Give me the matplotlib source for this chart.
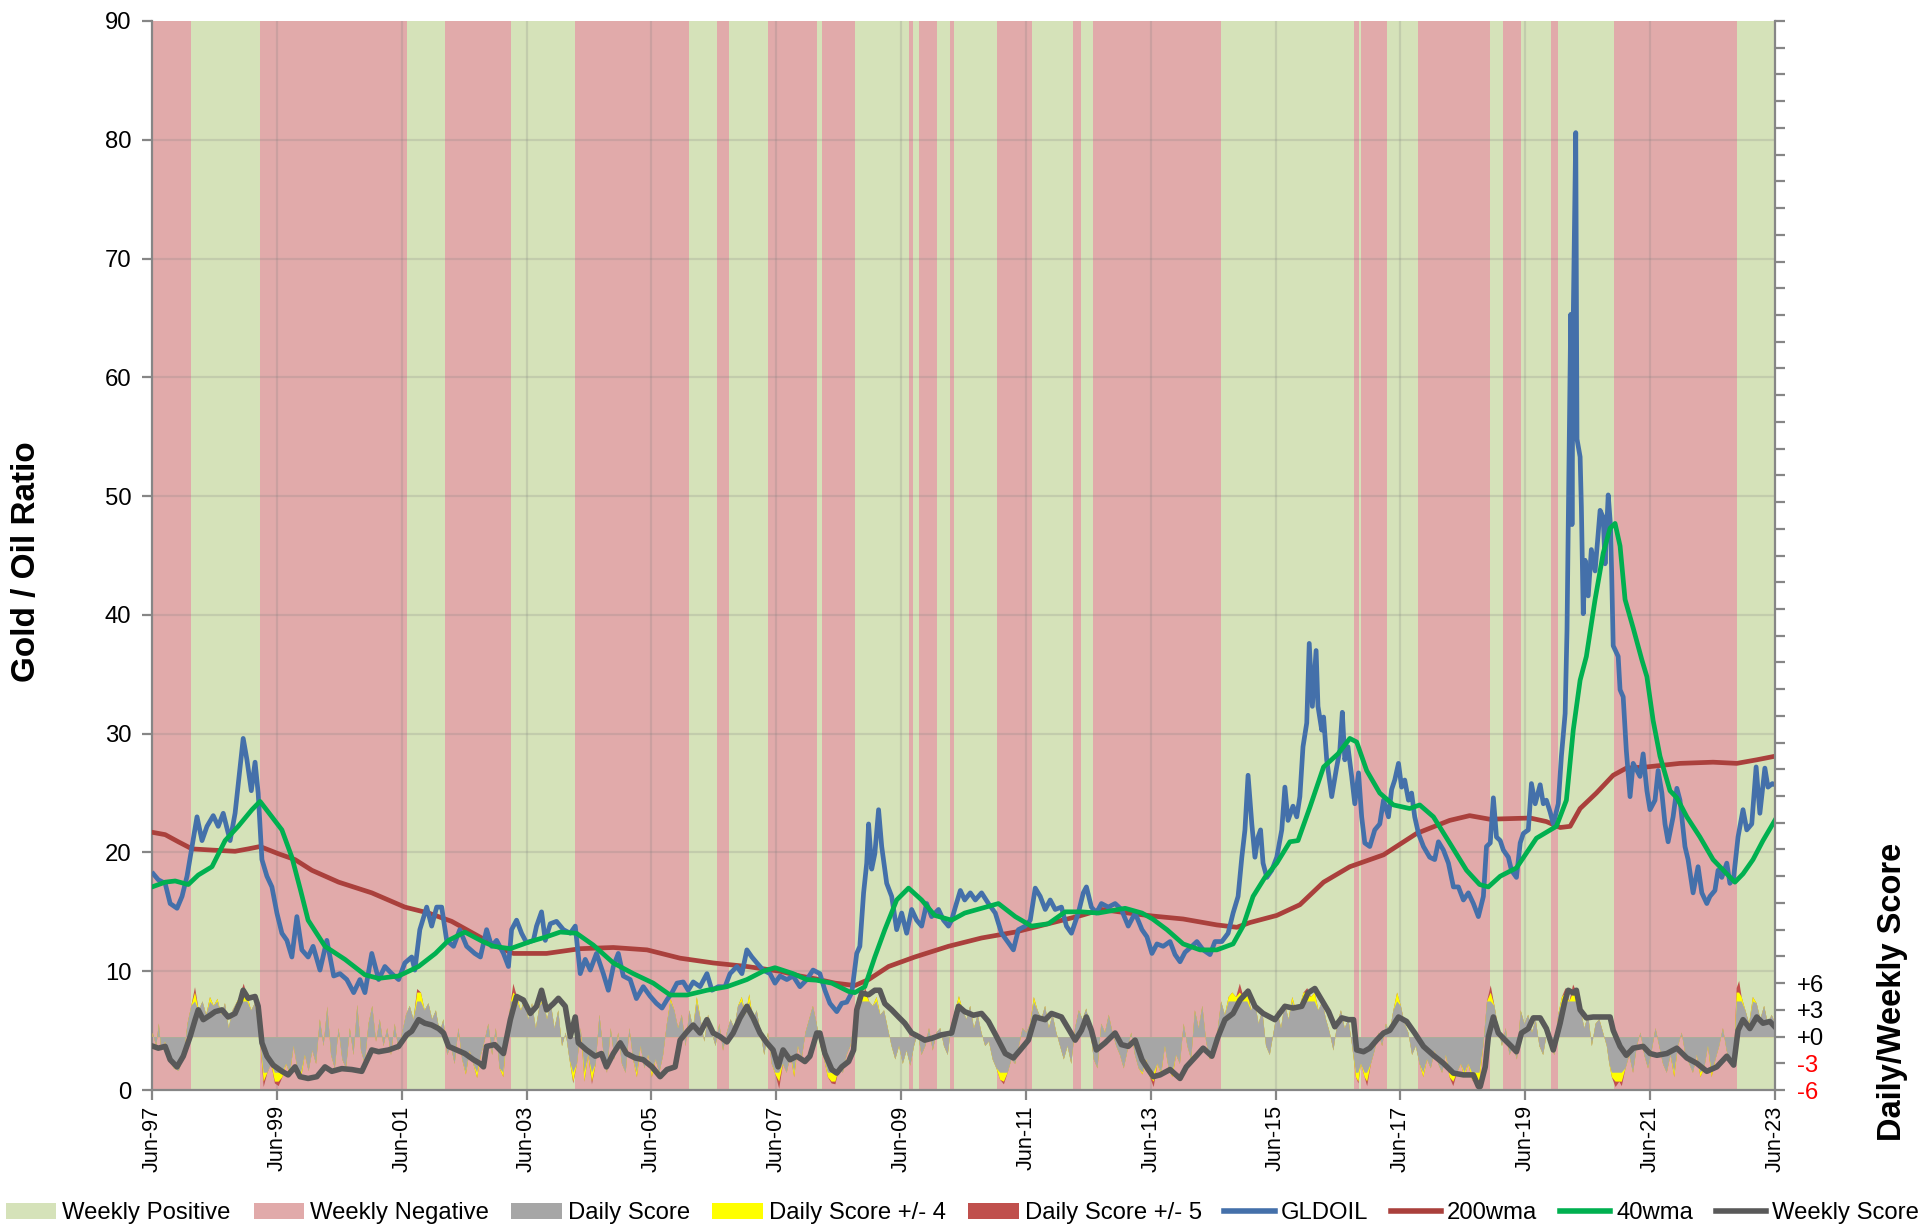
"""
Gold / Oil ratio chart with weekly regime bands and daily/weekly score
"""
import matplotlib
matplotlib.use("Agg")
import matplotlib.pyplot as plt
from matplotlib import font_manager
from matplotlib.patches import Patch
from matplotlib.lines import Line2D
import numpy as np

# ---------------- data (decimal years) ----------------
x_ticks = [1997.42, 1999.42, 2001.42, 2003.42, 2005.42, 2007.42, 2009.42,
           2011.42, 2013.42, 2015.42, 2017.42, 2019.42, 2021.42, 2023.42]
x_labels = ["Jun-97", "Jun-99", "Jun-01", "Jun-03", "Jun-05", "Jun-07", "Jun-09",
            "Jun-11", "Jun-13", "Jun-15", "Jun-17", "Jun-19", "Jun-21", "Jun-23"]

# weekly regime bands: edges and whether the band is positive
band_edges = [1997.42, 1998.04, 1999.15, 2001.50, 2002.11, 2003.17, 2004.20, 2006.02,
              2006.47, 2006.66, 2007.29, 2008.07, 2008.15, 2008.69, 2009.54, 2009.61,
              2009.71, 2009.99, 2010.20, 2010.27, 2010.95, 2011.52, 2012.18, 2012.31,
              2012.50, 2014.55, 2016.68, 2016.75, 2016.79, 2017.20, 2017.71, 2018.86,
              2019.07, 2019.35, 2019.83, 2019.94, 2020.85, 2022.81, 2023.42]
band_positive = [0, 1, 0, 1, 0, 1, 0, 1, 0, 1, 0, 1, 0, 1, 0, 1, 0, 1, 0,
                 1, 0, 1, 0, 1, 0, 1, 0, 1, 0, 1, 0, 1, 0, 1, 0, 1, 0, 1]

gldoil = [
    (1997.44, 18.2), (1997.52, 17.7), (1997.63, 17.4), (1997.71, 15.7), (1997.82, 15.3),
    (1997.90, 16.3), (1997.98, 18.0), (1998.06, 20.5), (1998.14, 23.0), (1998.22, 21.0),
    (1998.30, 22.2), (1998.40, 23.1), (1998.48, 22.2), (1998.56, 23.3), (1998.67, 21.0),
    (1998.75, 23.3), (1998.83, 27.2), (1998.88, 29.6), (1998.94, 27.8), (1999.01, 25.2),
    (1999.07, 27.6), (1999.12, 25.0), (1999.18, 19.4), (1999.26, 18.0), (1999.34, 17.1),
    (1999.42, 14.9), (1999.50, 13.2), (1999.58, 12.6), (1999.66, 11.2), (1999.74, 14.6),
    (1999.82, 11.8), (1999.92, 11.2), (2000.00, 12.1), (2000.11, 10.1), (2000.22, 12.6),
    (2000.33, 9.6), (2000.43, 9.8), (2000.54, 9.3), (2000.65, 8.2), (2000.75, 9.3),
    (2000.83, 8.2), (2000.94, 11.5), (2001.05, 9.3), (2001.15, 10.4), (2001.26, 9.8),
    (2001.37, 9.3), (2001.47, 10.7), (2001.58, 11.2), (2001.63, 10.1), (2001.71, 13.5),
    (2001.82, 15.4), (2001.90, 13.8), (2001.98, 15.4), (2002.06, 15.4), (2002.14, 12.6),
    (2002.25, 12.1), (2002.35, 13.5), (2002.46, 12.1), (2002.59, 11.5), (2002.68, 11.2),
    (2002.78, 13.5), (2002.86, 12.1), (2002.94, 12.6), (2003.05, 11.5), (2003.13, 10.4),
    (2003.18, 13.5), (2003.26, 14.3), (2003.34, 13.2), (2003.42, 12.4), (2003.53, 12.6),
    (2003.58, 13.8), (2003.66, 15.0), (2003.72, 12.6), (2003.80, 14.0), (2003.90, 14.2),
    (2004.01, 13.5), (2004.12, 13.2), (2004.20, 13.8), (2004.28, 9.8), (2004.36, 11.0),
    (2004.44, 10.1), (2004.54, 11.5), (2004.65, 9.8), (2004.73, 8.4), (2004.81, 10.4),
    (2004.89, 11.5), (2004.97, 9.6), (2005.08, 9.3), (2005.18, 7.7), (2005.29, 8.7),
    (2005.40, 7.9), (2005.50, 7.3), (2005.59, 6.9), (2005.67, 7.6), (2005.75, 8.2),
    (2005.83, 9.0), (2005.93, 9.1), (2006.01, 8.4), (2006.09, 9.1), (2006.20, 8.7),
    (2006.31, 9.8), (2006.39, 8.4), (2006.49, 8.7), (2006.60, 8.7), (2006.68, 9.8),
    (2006.79, 10.4), (2006.87, 9.8), (2006.95, 11.8), (2007.03, 11.2), (2007.11, 10.7),
    (2007.21, 10.1), (2007.32, 9.8), (2007.40, 9.0), (2007.48, 9.6), (2007.59, 9.3),
    (2007.69, 9.6), (2007.80, 8.7), (2007.91, 9.3), (2008.01, 10.1), (2008.12, 9.8),
    (2008.20, 8.4), (2008.28, 7.3), (2008.39, 6.6), (2008.47, 7.3), (2008.55, 7.4),
    (2008.63, 8.2), (2008.71, 11.5), (2008.76, 12.1), (2008.82, 16.6), (2008.87, 19.1),
    (2008.90, 22.4), (2008.95, 18.6), (2009.00, 19.9), (2009.06, 23.6), (2009.11, 20.5),
    (2009.19, 17.4), (2009.27, 16.3), (2009.35, 13.5), (2009.43, 14.9), (2009.51, 13.2),
    (2009.59, 15.2), (2009.67, 14.3), (2009.75, 13.8), (2009.83, 15.7), (2009.91, 14.6),
    (2010.02, 15.2), (2010.10, 14.3), (2010.18, 13.8), (2010.23, 14.3), (2010.29, 15.4),
    (2010.37, 16.8), (2010.44, 16.0), (2010.53, 16.6), (2010.61, 16.0), (2010.71, 16.6),
    (2010.82, 15.7), (2010.93, 14.9), (2011.03, 13.2), (2011.14, 12.4), (2011.22, 11.8),
    (2011.30, 13.5), (2011.41, 13.8), (2011.49, 14.3), (2011.57, 17.0), (2011.65, 16.3),
    (2011.73, 15.2), (2011.81, 16.0), (2011.89, 15.2), (2011.99, 15.4), (2012.07, 13.8),
    (2012.15, 13.2), (2012.26, 14.9), (2012.34, 16.6), (2012.39, 17.1), (2012.47, 15.4),
    (2012.55, 14.9), (2012.63, 15.7), (2012.74, 15.4), (2012.85, 15.7), (2012.95, 15.2),
    (2013.06, 13.8), (2013.17, 14.9), (2013.28, 13.5), (2013.36, 12.9), (2013.44, 11.5),
    (2013.52, 12.3), (2013.62, 12.1), (2013.73, 12.5), (2013.81, 11.4), (2013.89, 10.8),
    (2013.97, 11.6), (2014.08, 12.1), (2014.16, 12.5), (2014.26, 11.8), (2014.37, 11.4),
    (2014.45, 12.5), (2014.56, 12.5), (2014.66, 13.2), (2014.74, 14.9), (2014.82, 16.3),
    (2014.88, 19.6), (2014.93, 21.9), (2014.98, 26.5), (2015.04, 22.4), (2015.09, 19.6),
    (2015.14, 21.3), (2015.18, 21.9), (2015.22, 19.1), (2015.28, 17.9), (2015.36, 18.5),
    (2015.44, 19.6), (2015.52, 21.9), (2015.57, 25.5), (2015.62, 22.7), (2015.70, 23.9),
    (2015.76, 23.0), (2015.81, 24.7), (2015.86, 28.9), (2015.92, 30.9), (2015.96, 37.6),
    (2016.01, 32.3), (2016.07, 37.0), (2016.10, 32.3), (2016.16, 30.3), (2016.19, 31.4),
    (2016.24, 27.8), (2016.32, 24.7), (2016.40, 27.2), (2016.45, 28.6), (2016.49, 31.8),
    (2016.53, 27.8), (2016.58, 28.9), (2016.64, 26.4), (2016.69, 24.1), (2016.75, 26.7),
    (2016.80, 23.0), (2016.85, 20.8), (2016.93, 20.5), (2017.01, 21.9), (2017.09, 22.4),
    (2017.15, 24.4), (2017.23, 23.0), (2017.28, 25.3), (2017.33, 26.1), (2017.39, 27.5),
    (2017.44, 25.5), (2017.49, 26.1), (2017.55, 24.4), (2017.60, 25.0), (2017.65, 23.0),
    (2017.71, 21.6), (2017.79, 20.5), (2017.89, 19.6), (2017.97, 19.4), (2018.03, 20.9),
    (2018.11, 20.2), (2018.19, 19.1), (2018.27, 17.1), (2018.35, 17.1), (2018.43, 16.0),
    (2018.51, 16.6), (2018.59, 15.7), (2018.67, 14.6), (2018.75, 16.3), (2018.80, 20.5),
    (2018.86, 20.8), (2018.91, 24.6), (2018.96, 21.3), (2019.02, 21.0), (2019.07, 20.2),
    (2019.15, 19.6), (2019.20, 18.5), (2019.28, 17.9), (2019.34, 20.8), (2019.39, 21.6),
    (2019.47, 21.9), (2019.52, 25.8), (2019.58, 24.1), (2019.66, 25.7), (2019.71, 24.1),
    (2019.76, 24.4), (2019.82, 23.4), (2019.87, 22.4), (2019.95, 24.1), (2020.00, 28.1),
    (2020.06, 31.7), (2020.09, 38.7), (2020.15, 65.3), (2020.17, 47.6), (2020.19, 65.0),
    (2020.23, 80.6), (2020.25, 54.8), (2020.30, 53.3), (2020.32, 49.1), (2020.35, 40.1),
    (2020.38, 44.6), (2020.43, 41.6), (2020.48, 45.5), (2020.54, 43.7), (2020.62, 48.8),
    (2020.67, 48.2), (2020.70, 44.3), (2020.75, 50.1), (2020.79, 47.3), (2020.83, 37.4),
    (2020.91, 36.5), (2020.94, 33.7), (2020.99, 33.1), (2021.04, 28.6), (2021.10, 24.7),
    (2021.15, 27.5), (2021.21, 26.9), (2021.26, 26.4), (2021.31, 28.3), (2021.37, 25.2),
    (2021.42, 23.6), (2021.50, 24.4), (2021.55, 26.9), (2021.61, 25.0), (2021.66, 22.4),
    (2021.71, 20.9), (2021.79, 23.0), (2021.85, 25.4), (2021.90, 24.4), (2021.98, 20.5),
    (2022.03, 19.4), (2022.11, 16.6), (2022.19, 18.8), (2022.25, 16.6), (2022.33, 15.7),
    (2022.38, 16.3), (2022.46, 16.8), (2022.51, 18.5), (2022.57, 17.9), (2022.65, 19.1),
    (2022.70, 17.4), (2022.76, 17.9), (2022.83, 21.3), (2022.91, 23.6), (2022.97, 21.9),
    (2023.05, 22.4), (2023.12, 27.2), (2023.18, 23.3), (2023.26, 27.1), (2023.31, 25.5),
    (2023.38, 25.8), (2023.42, 25.7),
]

wma200 = [
    (1997.42, 21.7), (1997.63, 21.5), (1997.84, 20.9), (1998.06, 20.3), (1998.38, 20.2),
    (1998.75, 20.1), (1998.96, 20.3), (1999.15, 20.5), (1999.44, 19.9), (1999.71, 19.4),
    (1999.98, 18.5), (2000.41, 17.5), (2000.94, 16.6), (2001.47, 15.4), (2001.85, 14.9),
    (2002.22, 14.2), (2002.70, 12.8), (2002.94, 12.1), (2003.21, 11.5), (2003.74, 11.5),
    (2004.28, 11.9), (2004.81, 12.0), (2005.35, 11.8), (2005.88, 11.1), (2006.41, 10.7),
    (2006.95, 10.4), (2007.48, 10.0), (2007.80, 9.6), (2008.06, 9.35), (2008.36, 9.0),
    (2008.68, 8.8), (2008.90, 9.3), (2009.22, 10.4), (2009.64, 11.2), (2010.18, 12.1),
    (2010.71, 12.8), (2011.25, 13.3), (2011.78, 14.0), (2012.31, 14.7), (2012.63, 15.2),
    (2013.06, 14.9), (2013.45, 14.65), (2013.94, 14.4), (2014.48, 13.9), (2014.80, 13.7),
    (2015.01, 14.1), (2015.44, 14.7), (2015.81, 15.6), (2016.19, 17.5), (2016.61, 18.8),
    (2017.15, 19.8), (2017.68, 21.6), (2018.21, 22.7), (2018.53, 23.1), (2018.85, 22.8),
    (2019.50, 22.9), (2019.76, 22.6), (2019.98, 22.1), (2020.14, 22.2), (2020.30, 23.7),
    (2020.56, 25.0), (2020.83, 26.5), (2021.04, 27.1), (2021.37, 27.2), (2021.90, 27.5),
    (2022.43, 27.6), (2022.81, 27.5), (2023.13, 27.8), (2023.42, 28.1),
]

wma40 = [
    (1997.42, 17.1), (1997.63, 17.5), (1997.79, 17.6), (1998.00, 17.3), (1998.16, 18.1),
    (1998.38, 18.8), (1998.59, 21.0), (1998.80, 22.2), (1999.02, 23.6), (1999.15, 24.3),
    (1999.34, 23.0), (1999.50, 21.9), (1999.66, 19.6), (1999.80, 16.8), (1999.92, 14.3),
    (2000.19, 12.1), (2000.51, 11.0), (2000.83, 9.7), (2001.05, 9.4), (2001.37, 9.6),
    (2001.69, 10.4), (2001.96, 11.5), (2002.17, 12.6), (2002.43, 13.3), (2002.70, 12.55),
    (2002.89, 12.1), (2003.16, 11.9), (2003.48, 12.5), (2003.74, 12.9), (2003.96, 13.3),
    (2004.22, 13.2), (2004.49, 12.2), (2004.81, 10.7), (2005.13, 9.8), (2005.45, 9.0),
    (2005.72, 8.0), (2005.99, 8.0), (2006.31, 8.4), (2006.63, 8.7), (2006.95, 9.3),
    (2007.21, 10.0), (2007.40, 10.3), (2007.69, 9.8), (2007.91, 9.3), (2008.06, 9.25),
    (2008.31, 9.0), (2008.58, 8.3), (2008.68, 8.2), (2008.84, 8.7), (2009.00, 11.2),
    (2009.16, 13.5), (2009.35, 16.0), (2009.54, 17.0), (2009.75, 16.0), (2009.96, 14.7),
    (2010.23, 14.3), (2010.44, 14.9), (2010.71, 15.3), (2010.98, 15.7), (2011.25, 14.6),
    (2011.51, 13.8), (2011.78, 14.0), (2012.05, 15.0), (2012.31, 15.0), (2012.58, 14.9),
    (2013.01, 15.3), (2013.28, 14.9), (2013.45, 14.4), (2013.68, 13.5), (2013.94, 12.3),
    (2014.21, 11.8), (2014.48, 11.8), (2014.74, 12.3), (2014.90, 13.8), (2015.06, 16.3),
    (2015.25, 17.9), (2015.44, 19.1), (2015.65, 20.9), (2015.78, 21.0), (2015.97, 23.8),
    (2016.19, 27.2), (2016.42, 28.3), (2016.61, 29.6), (2016.72, 29.3), (2016.88, 26.9),
    (2017.09, 25.0), (2017.31, 24.0), (2017.57, 23.7), (2017.73, 24.0), (2017.95, 23.0),
    (2018.21, 20.8), (2018.48, 18.5), (2018.69, 17.3), (2018.83, 17.1), (2019.02, 18.0),
    (2019.28, 18.7), (2019.60, 21.2), (2019.92, 22.2), (2020.08, 24.4), (2020.19, 30.3),
    (2020.30, 34.5), (2020.40, 36.5), (2020.54, 41.3), (2020.67, 45.2), (2020.78, 47.3),
    (2020.86, 47.7), (2020.94, 45.8), (2021.02, 41.3), (2021.15, 38.9), (2021.29, 36.2),
    (2021.37, 34.8), (2021.47, 31.1), (2021.58, 28.1), (2021.74, 25.2), (2021.85, 24.6),
    (2022.01, 23.0), (2022.22, 21.3), (2022.43, 19.4), (2022.65, 18.2), (2022.78, 17.5),
    (2022.91, 18.2), (2023.07, 19.4), (2023.23, 21.0), (2023.42, 22.7),
]

# scores are on the secondary axis (-6 .. +6)
weekly_score = [
    (1997.44, -1.1), (1997.52, -1.3), (1997.63, -1.1), (1997.71, -2.6), (1997.82, -3.4),
    (1997.92, -2.2), (1998.03, 0.0), (1998.11, 1.9), (1998.16, 3.0), (1998.24, 1.9),
    (1998.35, 2.4), (1998.43, 2.8), (1998.54, 3.0), (1998.64, 2.2), (1998.75, 2.6),
    (1998.83, 3.9), (1998.88, 5.2), (1998.96, 4.3), (1999.07, 4.5), (1999.12, 3.4),
    (1999.18, -0.7), (1999.26, -2.2), (1999.36, -3.2), (1999.50, -3.9), (1999.60, -4.3),
    (1999.71, -3.4), (1999.79, -4.5), (1999.92, -4.7), (2000.06, -4.5), (2000.19, -3.4),
    (2000.30, -3.9), (2000.46, -3.6), (2000.62, -3.7), (2000.78, -3.9), (2000.94, -1.5),
    (2001.05, -1.7), (2001.21, -1.5), (2001.37, -1.1), (2001.50, 0.2), (2001.58, 0.6),
    (2001.69, 1.9), (2001.79, 1.5), (2001.90, 1.3), (2002.01, 0.9), (2002.09, 0.4),
    (2002.17, -1.1), (2002.30, -1.5), (2002.43, -1.9), (2002.57, -2.6), (2002.67, -3.0),
    (2002.73, -3.4), (2002.78, -1.1), (2002.91, -0.9), (2003.05, -1.9), (2003.16, 1.9),
    (2003.26, 4.5), (2003.37, 4.1), (2003.48, 2.6), (2003.58, 3.4), (2003.66, 5.2),
    (2003.74, 3.0), (2003.85, 3.7), (2003.93, 4.3), (2004.04, 3.4), (2004.12, 0.0),
    (2004.20, 2.2), (2004.25, -0.7), (2004.38, -1.5), (2004.52, -2.2), (2004.62, -1.9),
    (2004.70, -3.4), (2004.81, -1.9), (2004.92, -0.7), (2005.02, -1.9), (2005.16, -2.4),
    (2005.29, -2.6), (2005.43, -3.4), (2005.56, -4.5), (2005.67, -3.7), (2005.80, -3.4),
    (2005.88, -0.4), (2006.01, 0.7), (2006.09, 1.3), (2006.20, 0.4), (2006.31, 1.9),
    (2006.41, 0.4), (2006.52, 0.0), (2006.63, -0.6), (2006.73, 0.4), (2006.84, 2.1),
    (2006.95, 3.4), (2007.05, 2.1), (2007.16, 0.4), (2007.27, -0.7), (2007.37, -1.5),
    (2007.45, -3.4), (2007.53, -1.5), (2007.64, -2.6), (2007.75, -2.2), (2007.88, -2.8),
    (2007.96, -2.2), (2008.07, 0.4), (2008.12, 0.4), (2008.20, -1.9), (2008.31, -3.7),
    (2008.39, -4.1), (2008.47, -3.4), (2008.58, -2.8), (2008.66, -1.5), (2008.71, 3.0),
    (2008.79, 4.9), (2008.90, 4.7), (2009.00, 5.2), (2009.08, 5.2), (2009.16, 3.7),
    (2009.27, 3.0), (2009.38, 2.2), (2009.48, 1.5), (2009.59, 0.4), (2009.70, 0.0),
    (2009.80, -0.4), (2009.91, -0.2), (2010.07, 0.2), (2010.23, 0.4), (2010.34, 3.4),
    (2010.44, 2.8), (2010.58, 2.4), (2010.71, 2.6), (2010.82, 1.7), (2010.95, 0.0),
    (2011.09, -1.9), (2011.22, -2.4), (2011.33, -1.5), (2011.46, -0.4), (2011.57, 2.2),
    (2011.73, 1.9), (2011.83, 2.6), (2011.99, 2.2), (2012.10, 0.9), (2012.21, -0.4),
    (2012.31, 0.7), (2012.39, 2.2), (2012.47, 0.7), (2012.55, -1.5), (2012.69, -0.7),
    (2012.85, 0.4), (2012.95, -0.9), (2013.06, -1.1), (2013.17, -0.4), (2013.28, -2.6),
    (2013.38, -3.7), (2013.46, -4.5), (2013.57, -4.3), (2013.73, -3.7), (2013.89, -4.7),
    (2013.99, -3.4), (2014.16, -2.1), (2014.26, -1.3), (2014.40, -2.2), (2014.50, 0.0),
    (2014.61, 1.9), (2014.74, 2.6), (2014.85, 4.1), (2014.98, 5.1), (2015.09, 3.4),
    (2015.22, 2.6), (2015.41, 1.9), (2015.57, 3.4), (2015.70, 3.2), (2015.84, 3.4),
    (2015.94, 4.9), (2016.05, 5.4), (2016.16, 4.1), (2016.27, 2.8), (2016.37, 1.1),
    (2016.48, 2.1), (2016.59, 1.9), (2016.67, 1.9), (2016.72, -1.5), (2016.83, -1.7),
    (2016.93, -1.3), (2017.04, -0.4), (2017.15, 0.4), (2017.25, 0.7), (2017.39, 2.2),
    (2017.52, 1.7), (2017.65, 0.4), (2017.79, -1.1), (2017.95, -2.1), (2018.11, -3.0),
    (2018.27, -4.1), (2018.43, -4.3), (2018.59, -4.3), (2018.67, -5.6), (2018.70, -5.6),
    (2018.78, -3.4), (2018.83, 0.0), (2018.91, 2.2), (2018.99, 0.4), (2019.10, -0.4),
    (2019.20, -1.1), (2019.28, -1.7), (2019.36, 0.4), (2019.47, 0.9), (2019.55, 2.1),
    (2019.66, 2.1), (2019.76, 0.9), (2019.87, -1.5), (2019.98, 1.5), (2020.06, 4.1),
    (2020.11, 5.2), (2020.19, 4.9), (2020.24, 5.2), (2020.30, 3.0), (2020.40, 2.1),
    (2020.51, 2.2), (2020.64, 2.2), (2020.78, 2.2), (2020.83, 0.7), (2020.94, -1.1),
    (2021.04, -2.1), (2021.15, -1.3), (2021.31, -1.1), (2021.42, -1.9), (2021.53, -2.1),
    (2021.69, -1.9), (2021.85, -1.3), (2022.01, -2.4), (2022.17, -3.0), (2022.33, -3.9),
    (2022.49, -3.4), (2022.65, -2.2), (2022.76, -3.2), (2022.83, 0.7), (2022.91, 1.9),
    (2023.02, 0.9), (2023.13, 2.2), (2023.23, 1.5), (2023.34, 1.7), (2023.42, 1.1),
]

daily_score = [
    (1997.42, 0.5), (1997.48, -1.0), (1997.52, 1.5), (1997.56, -1.5), (1997.62, -0.5),
    (1997.68, -2.5), (1997.76, -3.5), (1997.84, -3.8), (1997.92, -2.0), (1997.98, 1.5),
    (1998.04, 3.5), (1998.10, 5.6), (1998.16, 3.0), (1998.22, 4.0), (1998.28, 2.5),
    (1998.34, 4.5), (1998.40, 3.5), (1998.46, 4.3), (1998.52, 2.5), (1998.58, 3.8),
    (1998.64, 1.0), (1998.70, 3.0), (1998.76, 3.8), (1998.82, 4.6), (1998.88, 6.0),
    (1998.94, 4.5), (1999.00, 3.0), (1999.06, 3.8), (1999.10, 2.0), (1999.15, -1.0),
    (1999.20, -5.6), (1999.26, -4.0), (1999.32, -3.0), (1999.38, -5.2), (1999.44, -5.5),
    (1999.50, -4.5), (1999.56, -3.0), (1999.62, -4.2), (1999.68, -1.0), (1999.74, -3.5),
    (1999.80, -4.6), (1999.86, -2.0), (1999.92, -3.8), (1999.98, -1.5), (2000.04, -3.0),
    (2000.10, 2.0), (2000.16, -1.0), (2000.22, 3.4), (2000.28, -2.0), (2000.34, -3.5),
    (2000.40, 1.0), (2000.46, -2.5), (2000.52, -3.5), (2000.58, 1.0), (2000.64, -2.0),
    (2000.70, 3.6), (2000.76, -1.5), (2000.82, -3.0), (2000.88, 1.5), (2000.94, 3.5),
    (2001.00, -0.5), (2001.06, 2.0), (2001.12, -1.0), (2001.18, 1.0), (2001.24, -2.0),
    (2001.30, 1.5), (2001.36, -1.5), (2001.42, 0.5), (2001.48, 2.5), (2001.54, 3.5),
    (2001.60, 2.0), (2001.66, 5.4), (2001.72, 5.0), (2001.78, 3.0), (2001.84, 3.8),
    (2001.90, 2.0), (2001.96, 3.0), (2002.02, 0.5), (2002.08, 2.0), (2002.14, -2.0),
    (2002.20, -1.0), (2002.26, -3.0), (2002.32, 1.0), (2002.38, -2.5), (2002.44, -4.2),
    (2002.50, -1.5), (2002.56, -3.0), (2002.62, -4.6), (2002.68, -2.0), (2002.72, -1.0),
    (2002.80, 1.5), (2002.86, -2.0), (2002.92, 1.0), (2002.98, -3.5), (2003.04, -4.5),
    (2003.10, 0.5), (2003.16, 4.0), (2003.20, 6.0), (2003.26, 4.5), (2003.32, 3.0),
    (2003.38, 4.2), (2003.44, 2.0), (2003.50, 3.8), (2003.56, 1.0), (2003.62, 3.5),
    (2003.68, 4.3), (2003.74, 2.0), (2003.80, 3.8), (2003.86, 1.0), (2003.92, 3.0),
    (2003.98, -1.0), (2004.04, 0.5), (2004.10, -2.5), (2004.16, -5.2), (2004.22, -3.0),
    (2004.28, 1.0), (2004.34, -5.0), (2004.40, -2.0), (2004.46, -5.3), (2004.52, -3.0),
    (2004.58, 2.5), (2004.64, -1.5), (2004.70, -4.0), (2004.76, 1.0), (2004.82, -2.5),
    (2004.88, 0.5), (2004.94, -3.0), (2005.00, -4.0), (2005.06, 1.0), (2005.12, -2.5),
    (2005.18, -4.5), (2005.24, -1.0), (2005.30, -3.5), (2005.36, -2.0), (2005.42, -4.5),
    (2005.48, -2.5), (2005.54, -4.0), (2005.60, -2.0), (2005.66, 1.5), (2005.72, 4.3),
    (2005.78, 3.0), (2005.84, 1.0), (2005.90, 2.5), (2005.96, -1.0), (2006.02, 3.0),
    (2006.08, 1.0), (2006.14, 4.5), (2006.20, 2.0), (2006.26, -0.5), (2006.32, 2.5),
    (2006.38, 0.5), (2006.44, -1.0), (2006.50, 1.5), (2006.56, -1.5), (2006.62, 0.5),
    (2006.68, 2.0), (2006.74, 1.0), (2006.80, 3.5), (2006.86, 4.5), (2006.92, 2.5),
    (2006.98, 4.8), (2007.04, 2.0), (2007.10, 3.0), (2007.16, 0.5), (2007.22, -2.0),
    (2007.28, 0.5), (2007.34, -3.0), (2007.40, -4.2), (2007.46, -5.8), (2007.52, -3.0),
    (2007.58, -4.0), (2007.64, -2.0), (2007.70, -4.5), (2007.76, -1.0), (2007.82, -2.5),
    (2007.88, 0.5), (2007.94, 2.0), (2008.00, 3.5), (2008.06, 1.5), (2008.12, -1.0),
    (2008.18, -2.5), (2008.24, -4.5), (2008.30, -5.2), (2008.36, -5.3), (2008.42, -3.5),
    (2008.48, -4.0), (2008.54, -2.0), (2008.60, -1.0), (2008.66, 1.5), (2008.72, 4.5),
    (2008.78, 4.2), (2008.84, 5.5), (2008.90, 4.0), (2008.96, 3.5), (2009.02, 4.5),
    (2009.08, 2.5), (2009.14, 3.0), (2009.20, 1.0), (2009.26, -1.0), (2009.32, -2.5),
    (2009.38, -1.0), (2009.44, -3.0), (2009.50, -1.5), (2009.56, -3.2), (2009.62, -1.0),
    (2009.68, 0.5), (2009.74, -2.0), (2009.80, -1.0), (2009.86, 1.0), (2009.92, -1.5),
    (2009.98, 0.5), (2010.04, 1.0), (2010.10, -1.0), (2010.16, -2.0), (2010.22, 1.5),
    (2010.28, 3.0), (2010.34, 4.6), (2010.40, 3.0), (2010.46, 2.0), (2010.52, 3.5),
    (2010.58, 1.0), (2010.64, 2.5), (2010.70, 0.5), (2010.76, -1.0), (2010.82, -0.5),
    (2010.88, -2.5), (2010.94, -3.5), (2011.00, -4.8), (2011.06, -5.3), (2011.12, -4.0),
    (2011.18, -2.5), (2011.24, -3.0), (2011.30, -1.0), (2011.36, 1.0), (2011.42, 0.5),
    (2011.48, 1.5), (2011.54, 4.5), (2011.60, 3.0), (2011.66, 2.0), (2011.72, 3.5),
    (2011.78, 1.0), (2011.84, 2.5), (2011.90, 0.5), (2011.96, -1.0), (2012.02, -2.5),
    (2012.08, -1.0), (2012.14, -3.0), (2012.20, 1.0), (2012.26, 3.0), (2012.32, 2.0),
    (2012.38, 3.2), (2012.44, 1.0), (2012.50, -2.5), (2012.56, -3.5), (2012.62, 1.5),
    (2012.68, 0.5), (2012.74, 2.5), (2012.80, 0.5), (2012.86, -1.0), (2012.92, -2.0),
    (2012.98, -3.5), (2013.04, -1.5), (2013.10, 0.5), (2013.16, -2.0), (2013.22, -3.5),
    (2013.28, -4.2), (2013.34, -2.5), (2013.40, -4.5), (2013.46, -5.6), (2013.52, -3.0),
    (2013.58, -4.2), (2013.64, -1.0), (2013.70, -3.5), (2013.76, -4.5), (2013.82, -2.0),
    (2013.88, -3.0), (2013.94, 1.5), (2014.00, -1.0), (2014.06, -2.5), (2014.12, 3.0),
    (2014.18, 1.0), (2014.24, 3.5), (2014.30, -0.5), (2014.36, -2.5), (2014.42, -1.5),
    (2014.48, 0.5), (2014.54, 4.0), (2014.60, 2.5), (2014.66, 4.5), (2014.72, 5.0),
    (2014.78, 4.5), (2014.84, 6.0), (2014.90, 4.5), (2014.96, 5.5), (2015.02, 3.0),
    (2015.08, 4.0), (2015.14, 1.5), (2015.20, 3.0), (2015.26, -1.0), (2015.32, -2.0),
    (2015.38, 0.5), (2015.44, 3.0), (2015.50, 1.0), (2015.56, 3.8), (2015.62, 2.0),
    (2015.68, 4.5), (2015.74, 3.0), (2015.80, 3.5), (2015.86, 5.0), (2015.92, 5.5),
    (2015.98, 4.5), (2016.04, 5.0), (2016.10, 3.0), (2016.16, 4.0), (2016.22, 2.0),
    (2016.28, 0.5), (2016.34, -1.5), (2016.40, 1.5), (2016.46, 3.0), (2016.52, 1.0),
    (2016.58, 2.0), (2016.64, -1.0), (2016.70, -4.5), (2016.74, -5.2), (2016.78, -3.0),
    (2016.84, -4.5), (2016.88, -5.5), (2016.94, -3.0), (2017.00, -1.5), (2017.06, 0.5),
    (2017.12, -1.0), (2017.18, 1.5), (2017.24, 0.5), (2017.30, 3.0), (2017.36, 5.0),
    (2017.42, 3.5), (2017.48, 1.5), (2017.54, 0.5), (2017.60, -2.0), (2017.66, -1.0),
    (2017.72, -3.0), (2017.78, -4.5), (2017.84, -2.5), (2017.90, -3.5), (2017.96, -1.5),
    (2018.02, -3.0), (2018.08, -4.0), (2018.14, -2.0), (2018.20, -4.5), (2018.26, -5.5),
    (2018.32, -4.0), (2018.38, -3.0), (2018.44, -4.5), (2018.50, -3.0), (2018.56, -4.8),
    (2018.62, -5.2), (2018.68, -5.0), (2018.74, -1.0), (2018.80, 4.0), (2018.86, 5.8),
    (2018.92, 3.5), (2018.98, 1.0), (2019.04, -1.0), (2019.10, 1.0), (2019.16, -2.0),
    (2019.22, -1.0), (2019.28, -2.5), (2019.34, 3.0), (2019.40, 1.5), (2019.46, 2.5),
    (2019.52, 0.5), (2019.58, 2.0), (2019.64, -1.0), (2019.70, -2.0), (2019.76, 0.5),
    (2019.82, -1.0), (2019.88, -2.0), (2019.94, 2.5), (2020.00, 4.5), (2020.06, 5.5),
    (2020.12, 4.0), (2020.18, 5.9), (2020.24, 5.0), (2020.30, 3.0), (2020.36, 1.0),
    (2020.42, 2.5), (2020.48, -1.0), (2020.54, 1.5), (2020.60, 2.0), (2020.66, 0.5),
    (2020.72, -1.0), (2020.76, -3.0), (2020.80, -4.5), (2020.86, -5.6), (2020.92, -5.0),
    (2020.96, -5.5), (2021.02, -3.5), (2021.08, -2.0), (2021.14, -4.0), (2021.20, -1.0),
    (2021.26, 0.5), (2021.32, -2.0), (2021.38, -3.5), (2021.44, -1.5), (2021.50, 1.0),
    (2021.56, -1.0), (2021.62, -3.0), (2021.68, -4.0), (2021.74, -2.0), (2021.80, -4.5),
    (2021.86, -1.0), (2021.92, 0.5), (2021.98, -2.0), (2022.04, -3.0), (2022.10, -4.0),
    (2022.16, -2.0), (2022.22, -4.5), (2022.28, -3.5), (2022.34, -1.0), (2022.40, -4.5),
    (2022.46, -2.5), (2022.52, -1.0), (2022.58, 1.0), (2022.64, -1.5), (2022.70, -3.0),
    (2022.76, -2.0), (2022.80, 5.5), (2022.84, 6.3), (2022.88, 4.5), (2022.94, 3.0),
    (2023.00, 1.5), (2023.06, 4.5), (2023.12, 3.8), (2023.18, 2.0), (2023.24, 3.5),
    (2023.30, 1.5), (2023.36, 2.5), (2023.42, 1.5),
]

# ---------------- style ----------------
names = {f.name for f in font_manager.fontManager.ttflist}
if 'Liberation Sans Narrow' in names:
    FONT, k = 'Liberation Sans Narrow', 1.0
else:
    FONT, k = 'Liberation Sans', 0.84
plt.rcParams['font.family'] = [FONT, 'DejaVu Sans']

C_POS = '#D5E2B9'
C_NEG = '#E1AAAA'
C_GRAY = '#A6A6A6'
C_YEL = '#FFFF00'
C_RED = '#C0504D'
C_GLD = '#4470AA'
C_200 = '#AA403C'
C_40 = '#00B050'
C_WS = '#595959'
C_AX = '#868686'

fig = plt.figure(figsize=(19.25, 12.26), dpi=100)
ax = fig.add_axes([0.079, 0.1109, 0.843, 0.872])

# regime bands
for i, pos in enumerate(band_positive):
    ax.axvspan(band_edges[i], band_edges[i + 1], color=C_POS if pos else C_NEG,
               lw=0, zorder=0)

# grid
for v in range(10, 90, 10):
    ax.axhline(v, color='#808080', alpha=0.22, lw=1.6, zorder=1)
for t in x_ticks[1:-1]:
    ax.axvline(t, color='#808080', alpha=0.22, lw=1.6, zorder=1)

def unzip(pairs):
    a = np.array(pairs)
    return a[:, 0], a[:, 1]

gx, gy = unzip(gldoil)
ax.plot(*unzip(wma200), color=C_200, lw=3.4, zorder=3, solid_joinstyle='round')
ax.plot(gx, gy, color=C_GLD, lw=3.4, zorder=4, solid_joinstyle='round')
ax.plot(*unzip(wma40), color=C_40, lw=3.4, zorder=5, solid_joinstyle='round')

ax.set_xlim(band_edges[0], band_edges[-1])
ax.set_ylim(0, 90)
ax.set_yticks(range(0, 91, 10))
ax.set_xticks(x_ticks)
ax.set_xticklabels(x_labels, rotation=90)

# secondary axis: scores
ax2 = ax.twinx()
ax2.set_ylim(-6, 114)
dx, dy = unzip(daily_score)
ax2.fill_between(dx, 0, dy, color=C_RED, lw=0)
ax2.fill_between(dx, 0, np.clip(dy, -5, 5), color=C_YEL, lw=0)
ax2.fill_between(dx, 0, np.clip(dy, -4, 4), color=C_GRAY, lw=0)
ax2.plot(*unzip(weekly_score), color=C_WS, lw=4.0, solid_joinstyle='round')

sec_ticks = list(range(-6, 115, 3))
ax2.set_yticks(sec_ticks)
ax2.set_yticklabels([("+%d" % t if t >= 0 else "%d" % t) if t <= 6 else "" for t in sec_ticks])
for lab, t in zip(ax2.get_yticklabels(), sec_ticks):
    if t < 0:
        lab.set_color('red')

for a in (ax, ax2):
    a.spines['top'].set_visible(False)
    for s in ('left', 'right', 'bottom'):
        a.spines[s].set_color(C_AX)
        a.spines[s].set_linewidth(1.6)
ax.spines['right'].set_visible(False)
ax2.spines['left'].set_visible(False)
ax2.spines['bottom'].set_visible(False)

ax.tick_params(axis='y', length=7, width=1.6, color=C_AX, labelsize=20.5 * k, pad=8)
ax.tick_params(axis='x', length=7, width=1.6, color=C_AX, labelsize=18.5 * k, pad=4)
ax2.tick_params(axis='y', length=7, width=1.6, color=C_AX, labelsize=20.5 * k, pad=9)

fig.text(0.014, 0.5416, 'Gold / Oil Ratio', rotation=90, ha='center', va='center',
         fontsize=28.5 * k, fontweight='bold')
fig.text(0.983, 0.191, 'Daily/Weekly Score', rotation=90, ha='center', va='center',
         fontsize=28 * k, fontweight='bold')

handles = [
    Patch(facecolor=C_POS, edgecolor='none'),
    Patch(facecolor=C_NEG, edgecolor='none'),
    Patch(facecolor=C_GRAY, edgecolor='none'),
    Patch(facecolor=C_YEL, edgecolor='none'),
    Patch(facecolor=C_RED, edgecolor='none'),
    Line2D([], [], color=C_GLD, lw=4),
    Line2D([], [], color=C_200, lw=4),
    Line2D([], [], color=C_40, lw=4),
    Line2D([], [], color=C_WS, lw=4),
]
labels = ['Weekly Positive', 'Weekly Negative', 'Daily Score', 'Daily Score +/- 4',
          'Daily Score +/- 5', 'GLDOIL', '200wma', '40wma', 'Weekly Score']
fig.legend(handles, labels, loc='center', bbox_to_anchor=(0.5, 0.0105), ncol=9,
           frameon=False, fontsize=20.5 * k, handlelength=2.1, handleheight=0.65,
           handletextpad=0.25, columnspacing=0.95, borderaxespad=0)

fig.savefig('out.png', dpi=100)
